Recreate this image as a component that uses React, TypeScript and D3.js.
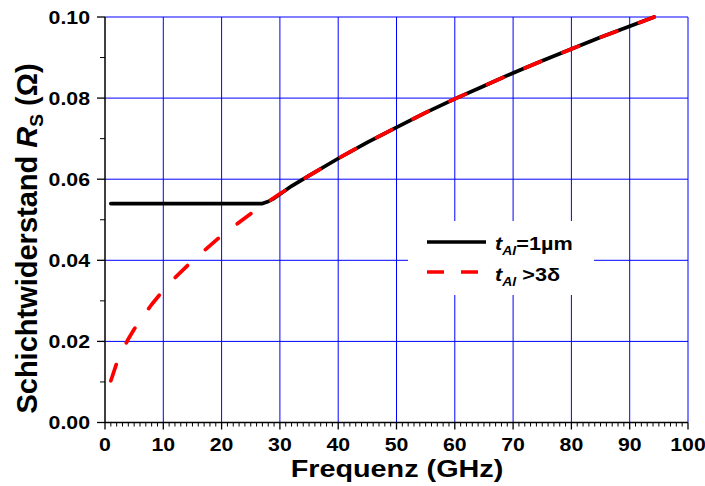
import React from "react";
import * as d3 from "d3";

const xTicks = [0, 10, 20, 30, 40, 50, 60, 70, 80, 90, 100];
const yTicks = [0.0, 0.02, 0.04, 0.06, 0.08, 0.1];

// t_Al = 1 µm (black solid)
const blackFreq = [1, 5, 10, 15, 20, 25, 27, 28, 29, 30, 32, 35, 40, 45, 50, 55, 60, 65, 70, 75, 80, 85, 90, 94.2];
const blackRs = [0.054, 0.054, 0.054, 0.054, 0.054, 0.054, 0.054, 0.0545, 0.0553, 0.0563, 0.0583, 0.0609, 0.0651, 0.0691, 0.0728, 0.0764, 0.0798, 0.083, 0.0862, 0.0892, 0.0921, 0.095, 0.0977, 0.1];

// t_Al > 3δ (red dashed)
const redFreq = [1, 2, 3, 4, 5, 6, 8, 10, 12, 15, 20, 25, 30, 35, 40, 45, 50, 55, 60, 65, 70, 75, 80, 85, 90, 94.2];
const redRs = [0.0103, 0.0146, 0.0178, 0.0206, 0.023, 0.0252, 0.0291, 0.0326, 0.0357, 0.0399, 0.0461, 0.0515, 0.0564, 0.0609, 0.0651, 0.0691, 0.0728, 0.0764, 0.0798, 0.083, 0.0862, 0.0892, 0.0921, 0.095, 0.0977, 0.1];

const FONT = "'Liberation Sans', Arial, sans-serif";

function SText({ x, y, sx = 1.12, anchor = "start", size, children }: any) {
  return (
    <text transform={`translate(${x},${y}) scale(${sx},1)`} textAnchor={anchor} fontSize={size} fontWeight="bold">
      {children}
    </text>
  );
}

export default function App() {
  const W = 705, H = 486;
  const x = d3.scaleLinear().domain([0, 100]).range([105, 688]);
  const y = d3.scaleLinear().domain([0, 0.1]).range([422.5, 17]);
  const xMinor = d3.range(0, 101, 1).filter((v) => v % 10 !== 0);
  const yMinor = d3.range(0.01, 0.1, 0.02);
  const line = d3.line<[number, number]>().x((d) => x(d[0])).y((d) => y(d[1]));
  const blackPts = blackFreq.map((f, i) => [f, blackRs[i]] as [number, number]);
  const redPts = redFreq.map((f, i) => [f, redRs[i]] as [number, number]);
  const [x0, x1] = x.range();
  const [y0, y1] = y.range();

  return (
    <svg width={W} height={H} style={{ position: "absolute", left: 0, top: 0 }} fontFamily={FONT}>
      <rect width={W} height={H} fill="#fff" />
      {/* grid */}
      {xTicks.filter((t) => t > 0).map((t) => (
        <line key={"gx" + t} x1={x(t)} x2={x(t)} y1={y0} y2={y1} stroke="#0000ff" strokeWidth={1} />
      ))}
      {yTicks.filter((t) => t > 0).map((t) => (
        <line key={"gy" + t} x1={x0} x2={x1} y1={y(t)} y2={y(t)} stroke="#0000ff" strokeWidth={1} />
      ))}
      {/* legend box */}
      <rect x={408} y={221} width={186} height={74} fill="#fff" />
      {/* axes */}
      <line x1={x0} x2={x0} y1={y0 + 0.5} y2={y1} stroke="#000" strokeWidth={1.5} />
      <line x1={x0} x2={x1} y1={y0} y2={y0} stroke="#000" strokeWidth={1.5} />
      {xTicks.map((t) => (
        <g key={"xt" + t}>
          <line x1={x(t)} x2={x(t)} y1={y0} y2={y0 + 7} stroke="#000" strokeWidth={1.3} />
          <SText x={x(t)} y={451} anchor="middle" size={19}>{t}</SText>
        </g>
      ))}
      {xMinor.map((t) => (
        <line key={"xm" + t} x1={x(t)} x2={x(t)} y1={y0} y2={y0 + 4} stroke="#000" strokeWidth={1} />
      ))}
      {yTicks.map((t) => (
        <g key={"yt" + t}>
          <line x1={x0 - 8} x2={x0} y1={y(t)} y2={y(t)} stroke="#000" strokeWidth={1.3} />
          <SText x={90} y={y(t) + 6.8} anchor="end" size={19}>{d3.format(".2f")(t)}</SText>
        </g>
      ))}
      {yMinor.map((t) => (
        <line key={"ym" + t} x1={x0 - 5} x2={x0} y1={y(t)} y2={y(t)} stroke="#000" strokeWidth={1} />
      ))}
      {/* data */}
      <path d={line(blackPts) || ""} fill="none" stroke="#000" strokeWidth={3.7} strokeLinejoin="round" strokeLinecap="round" />
      <path d={line(redPts) || ""} fill="none" stroke="#ff0000" strokeWidth={3.7} strokeDasharray="17,24" strokeLinecap="round" strokeLinejoin="round" />
      {/* legend */}
      <line x1={427} x2={486} y1={242} y2={242} stroke="#000" strokeWidth={3.5} />
      <SText x={495} y={250} size={18.5} sx={1.17}>
        <tspan fontStyle="italic">t</tspan>
        <tspan fontStyle="italic" fontSize={12} dy={5}>Al</tspan>
        <tspan dy={-5}>=1µm</tspan>
      </SText>
      <line x1={427} x2={478} y1={272} y2={272} stroke="#ff0000" strokeWidth={3.5} strokeDasharray="17,17" />
      <SText x={495} y={281} size={18.5} sx={1.17}>
        <tspan fontStyle="italic">t</tspan>
        <tspan fontStyle="italic" fontSize={12} dy={5}>Al</tspan>
        <tspan dy={-5}> &gt;3δ</tspan>
      </SText>
      {/* axis titles */}
      <SText x={397} y={477} anchor="middle" size={24} sx={1.2}>Frequenz (GHz)</SText>
      <text transform="translate(37,238.5) rotate(-90)" textAnchor="middle" fontSize={29} fontWeight="bold">
        <tspan>Schichtwiderstand </tspan>
        <tspan fontStyle="italic">R</tspan>
        <tspan fontSize={19} dy={6}>S</tspan>
        <tspan dy={-6}> (Ω)</tspan>
      </text>
    </svg>
  );
}
